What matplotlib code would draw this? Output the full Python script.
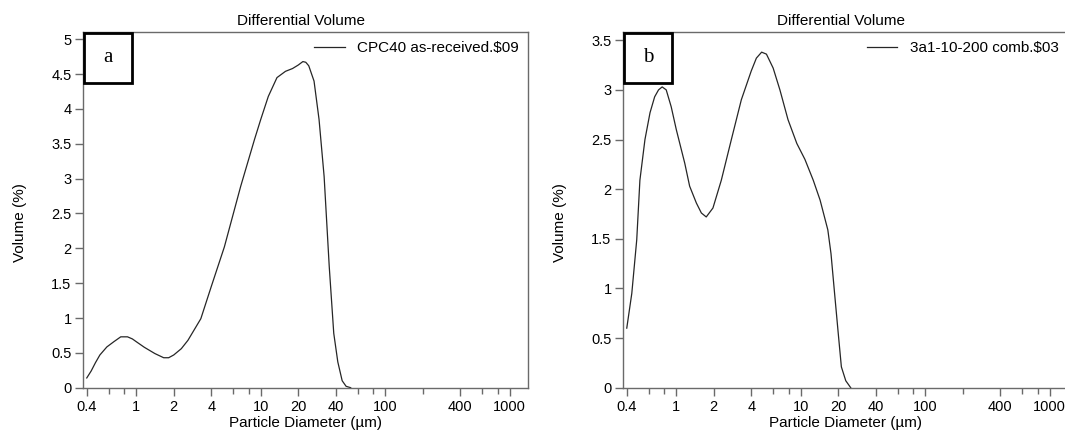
import matplotlib
matplotlib.use("Agg")
import matplotlib.pyplot as plt
from matplotlib.patches import Rectangle
from matplotlib.ticker import FixedLocator, NullFormatter

# ---- data ----
diam_a = [0.40, 0.434, 0.47, 0.51, 0.58, 0.66, 0.75, 0.85, 0.93, 1.0, 1.16, 1.41, 1.66, 1.82,
          2.0, 2.3, 2.6, 3.3, 4.0, 5.1, 6.9, 8.9, 10.0, 11.5, 13.5, 15.8, 18.0, 20.0, 21.8,
          23.0, 24.3, 26.8, 29.4, 32.3, 35.5, 38.6, 41.6, 45.1, 48.5, 52.8]
vol_a = [0.14, 0.24, 0.36, 0.47, 0.585, 0.66, 0.73, 0.73, 0.70, 0.66, 0.58, 0.49, 0.43, 0.43,
         0.47, 0.56, 0.68, 0.99, 1.45, 2.02, 2.89, 3.56, 3.85, 4.18, 4.45, 4.54, 4.58, 4.63,
         4.68, 4.67, 4.62, 4.40, 3.85, 3.03, 1.74, 0.78, 0.37, 0.10, 0.02, 0.0]

diam_b = [0.40, 0.439, 0.481, 0.51, 0.56, 0.615, 0.67, 0.72, 0.77, 0.83, 0.91, 1.0, 1.17,
          1.28, 1.45, 1.59, 1.74, 1.97, 2.30, 2.77, 3.33, 4.0, 4.4, 4.85, 5.3, 6.0, 6.8, 7.9,
          9.3, 10.8, 12.6, 14.3, 16.5, 17.5, 18.7, 20.0, 21.2, 23.0, 25.2]
vol_b = [0.60, 0.95, 1.49, 2.09, 2.50, 2.77, 2.93, 3.00, 3.03, 3.00, 2.83, 2.60, 2.26,
         2.03, 1.86, 1.76, 1.72, 1.81, 2.09, 2.50, 2.90, 3.19, 3.32, 3.38, 3.36, 3.22, 3.00,
         2.70, 2.46, 2.30, 2.09, 1.89, 1.59, 1.35, 0.95, 0.55, 0.21, 0.07, 0.0]

labels = ["CPC40 as-received.$09", "3a1-10-200 comb.$03"]
panel_letters = ["a", "b"]
y_max = [5.1, 3.58]
y_ticks = [[0, 0.5, 1, 1.5, 2, 2.5, 3, 3.5, 4, 4.5, 5],
           [0, 0.5, 1, 1.5, 2, 2.5, 3, 3.5]]
x_major = [0.4, 1, 2, 4, 10, 20, 40, 100, 400, 1000]
x_major_labels = ["0.4", "1", "2", "4", "10", "20", "40", "100", "400", "1000"]
x_minor = [0.6, 0.8, 6, 8, 60, 80, 200, 600, 800]

plt.rcParams['font.family'] = ['Liberation Sans', 'DejaVu Sans']

fig = plt.figure(figsize=(10.65, 4.34), dpi=100)
W, H = 1065, 434
spine_c = '#6a6a6a'

axes_px = [(82.7, 32.3, 527.7, 387.7), (622.7, 32.3, 1067.7, 387.7)]
series = [(diam_a, vol_a), (diam_b, vol_b)]

for i, (x0, y0, x1, y1) in enumerate(axes_px):
    ax = fig.add_axes([x0 / W, 1 - y1 / H, (x1 - x0) / W, (y1 - y0) / H])
    ax.set_xscale('log')
    ax.set_xlim(0.371, 1396)
    ax.set_ylim(0, y_max[i])
    d, v = series[i]
    ax.plot(d, v, color='#262626', lw=0.9, label=labels[i])

    ax.xaxis.set_major_locator(FixedLocator(x_major))
    ax.set_xticklabels(x_major_labels)
    ax.xaxis.set_minor_locator(FixedLocator(x_minor))
    ax.xaxis.set_minor_formatter(NullFormatter())
    ax.set_yticks(y_ticks[i])
    ax.set_yticklabels([f"{t:g}" for t in y_ticks[i]])

    ax.tick_params(axis='both', which='major', direction='out', length=6, width=1,
                   color=spine_c, labelsize=10.5, pad=2)
    ax.tick_params(axis='x', which='minor', direction='out', length=4, width=1, color=spine_c)
    ax.tick_params(axis='x', which='major', pad=3)
    for s in ax.spines.values():
        s.set_color(spine_c)
        s.set_linewidth(1.0)

    ax.set_title("Differential Volume", fontsize=11, pad=5, x=0.49)
    ax.set_xlabel("Particle Diameter (\u00b5m)", fontsize=11, labelpad=1)
    ax.set_ylabel("Volume (%)", fontsize=11)
    ax.yaxis.set_label_coords(-0.125, 0.466)

    bw = 48.5 / (x1 - x0)
    bh = 51 / (y1 - y0)
    ax.add_patch(Rectangle((0.002, 1 - bh), bw, bh - 0.002, transform=ax.transAxes,
                           fill=False, edgecolor='black', lw=2, clip_on=False, zorder=5))
    ax.text(0.002 + bw / 2, 1 - bh / 2, panel_letters[i], transform=ax.transAxes,
            ha='center', va='center', fontsize=15, family='Liberation Serif')

    leg = ax.legend(loc='upper right', frameon=False, fontsize=11, handlelength=2.0,
                    handletextpad=0.8, borderaxespad=0.3, borderpad=0.3)

fig.savefig("out.png", dpi=100)
